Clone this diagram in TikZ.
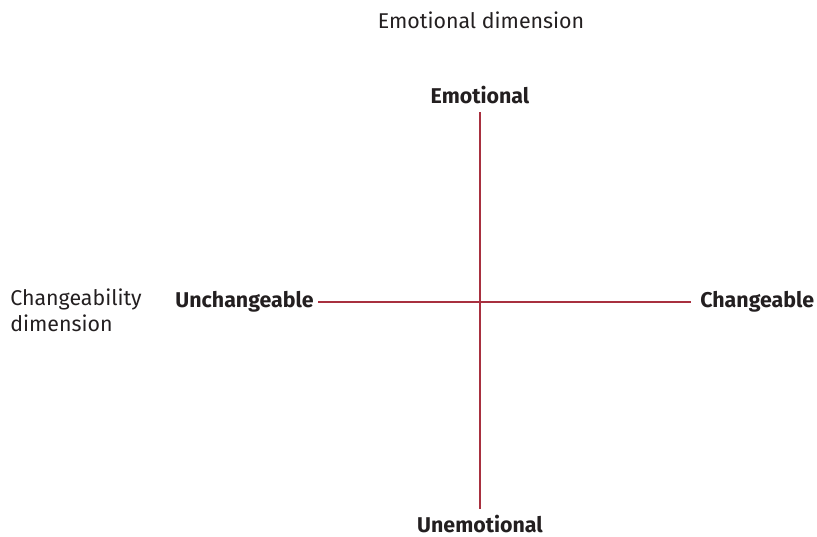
\documentclass[tikz,border=0pt]{standalone}
\usepackage{fontspec}
\setmainfont{Fira Sans}
\usepackage{tikz}
\usepackage{xcolor}
\definecolor{axisred}{HTML}{A8303F}
\definecolor{labelgray}{HTML}{231F20}

\begin{document}
\begin{tikzpicture}[x=0.025cm,y=-0.025cm,every node/.style={font=\fontsize{15.2}{18.5}\selectfont,text=labelgray,inner sep=0pt}]
\tikzset{pole/.style={font=\fontsize{15.2}{18.5}\selectfont\bfseries},
  axis/.style={draw=axisred,line width=1.5pt}}
\useasboundingbox (0,0) rectangle (817,537);
\node (emodim) at (481,20) {Emotional dimension};
\node[align=left,anchor=west] (chgdim) at (10,310) {Changeability\\dimension};
\node[pole] (emo) at (480,95) {Emotional};
\node[pole] (unemo) at (480,524) {Unemotional};
\node[pole,anchor=east] (unchg) at (314,302) {Unchangeable};
\node[pole,anchor=west] (chg) at (700,302) {Changeable};
\draw[axis,shorten <=0.2cm,shorten >=0.15cm] (emo.south) -- (unemo.north);
\draw[axis,shorten <=0.1cm,shorten >=0.225cm] (unchg.east) -- (chg.west);
\end{tikzpicture}
\end{document}
